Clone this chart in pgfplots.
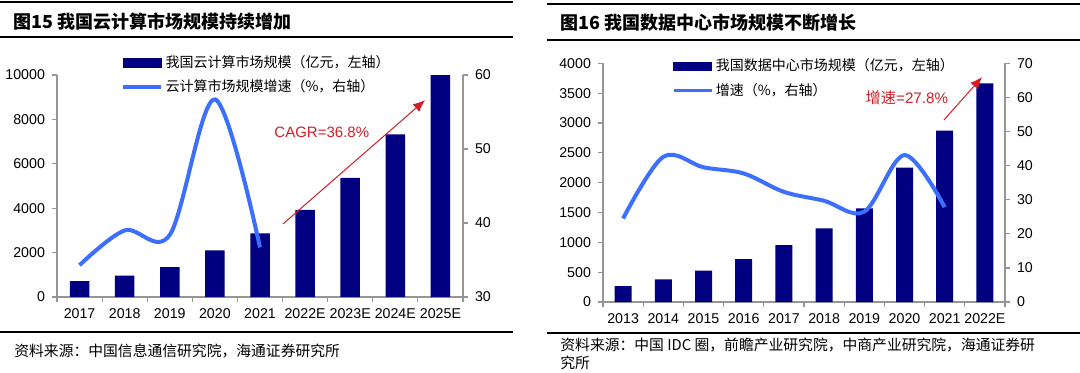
\documentclass[border=0pt]{standalone}
\usepackage{fontspec}
\usepackage{pgfplots}
\pgfplotsset{compat=1.18}
\usetikzlibrary{arrows.meta}
\setmainfont{Liberation Sans}
\newfontfamily\cjk{Noto Sans CJK SC}
\definecolor{barnavy}{RGB}{0,0,128}
\definecolor{lineblue}{RGB}{60,110,255}
\definecolor{annred}{RGB}{210,30,40}
\definecolor{axgray}{RGB}{150,150,150}
\pgfplotsset{
  base/.style={
    scale only axis, enlargelimits=false, clip=false,
    axis line style={draw=axgray, line width=0.6pt},
    tick style={draw=axgray, line width=0.6pt},
    tick align=outside, major tick length=2.5pt, minor tick length=2.5pt,
    ticklabel style={font=\fontsize{7.1}{8}\selectfont},
    /pgf/number format/assume math mode=true,
    /pgf/number format/1000 sep={},
    scaled y ticks=false,
  },
  legstyle/.style={
    legend style={draw=none, fill=none, font=\cjk\fontsize{7}{8}\selectfont,
      cells={anchor=west}, row sep=2.2pt, inner sep=0pt,
      nodes={inner sep=1.2pt}},
  },
}
\begin{document}
\begin{tikzpicture}
\path[use as bounding box] (0,0) rectangle (540pt,-186pt);
% ---------------- Panel 1 ----------------
\draw[line width=1pt] (0pt,-1.2pt) -- (256.5pt,-1.2pt);
\node[anchor=west, inner sep=0] at (6.5pt,-10.8pt) {\cjk\bfseries\fontsize{9}{10}\selectfont 图15 我国云计算市场规模持续增加};
\draw[line width=0.8pt] (0pt,-18.5pt) -- (256.5pt,-18.5pt);
\draw[line width=1pt] (0pt,-166pt) -- (256.5pt,-166pt);
\node[anchor=west, inner sep=0] at (7pt,-175.5pt) {\cjk\fontsize{7.4}{8.5}\selectfont 资料来源：中国信息通信研究院，海通证券研究所};

\begin{axis}[base, at={(28.5pt,-148.5pt)}, anchor=south west,
  width=203pt, height=111pt,
  xmin=-0.5, xmax=8.5, ymin=0, ymax=10000,
  ytick={0,2000,...,10000},
  axis x line*=bottom, axis y line*=left,
  xtick={0,...,8},
  xticklabels={2017,2018,2019,2020,2021,2022E,2023E,2024E,2025E},
  minor xtick={-0.5,0.5,...,8.5},
  major x tick style={draw=none},
]
\addplot[ybar, bar width=9.75pt, fill=barnavy, draw=none] coordinates {
  (0,720) (1,960) (2,1350) (3,2100) (4,2870) (5,3920) (6,5370) (7,7330) (8,10000)};
\draw[annred, line width=0.5pt, -{Latex[length=6pt,width=5pt]}] (axis cs:4.51,3290) -- (axis cs:7.66,8870);
\node[annred, font=\fontsize{7.5}{9}\selectfont] at (axis cs:5.37,7430) {CAGR=36.8\%};
\end{axis}

\begin{axis}[base, legstyle, at={(28.5pt,-148.5pt)}, anchor=south west,
  width=203pt, height=111pt,
  xmin=-0.5, xmax=8.5, ymin=30, ymax=60,
  ytick={30,40,50,60},
  axis y line*=right, axis x line=none,
  legend style={at={(0.158,1.10)}, anchor=north west},
]
\addlegendimage{legend image code/.code={\fill[barnavy] (0pt,-2.2pt) rectangle (19pt,2.2pt);}}
\addlegendentry{我国云计算市场规模（亿元，左轴）}
\addplot[smooth, tension=0.55, color=lineblue, line width=2pt,
  legend image code/.code={\draw[lineblue, line width=1.8pt] (0pt,0pt) -- (19pt,0pt);}]
  coordinates {(0,34.3) (1,39.0) (2,38.4) (3,56.7) (4,36.7)};
\addlegendentry{云计算市场规模增速（\%，右轴）}
\end{axis}

% ---------------- Panel 2 ----------------
\draw[line width=1pt] (273.5pt,-2pt) -- (540pt,-2pt);
\node[anchor=west, inner sep=0] at (280pt,-11.5pt) {\cjk\bfseries\fontsize{9}{10}\selectfont 图16 我国数据中心市场规模不断增长};
\draw[line width=0.8pt] (273.5pt,-20pt) -- (540pt,-20pt);
\draw[line width=1pt] (273.5pt,-166.5pt) -- (540pt,-166.5pt);
\node[anchor=west, inner sep=0] at (280pt,-172.5pt) {\cjk\fontsize{7.4}{8.5}\selectfont 资料来源：中国 IDC 圈，前瞻产业研究院，中商产业研究院，海通证券研};
\node[anchor=west, inner sep=0] at (280pt,-181.5pt) {\cjk\fontsize{7.4}{8.5}\selectfont 究所};

\begin{axis}[base, at={(301.5pt,-151pt)}, anchor=south west,
  width=201pt, height=119.35pt,
  xmin=-0.5, xmax=9.5, ymin=0, ymax=4000,
  ytick={0,500,...,4000},
  axis x line*=bottom, axis y line*=left,
  xtick={0,...,9},
  xticklabels={2013,2014,2015,2016,2017,2018,2019,2020,2021,2022E},
  minor xtick={-0.5,0.5,...,9.5},
  major x tick style={draw=none},
]
\addplot[ybar, bar width=8.5pt, fill=barnavy, draw=none] coordinates {
  (0,268) (1,380) (2,525) (3,720) (4,955) (5,1235) (6,1570) (7,2250) (8,2870) (9,3665)};
\draw[annred, line width=0.5pt, -{Latex[length=6pt,width=5pt]}] (axis cs:7.98,3050) -- (axis cs:8.93,3770);
\node[annred, font=\fontsize{7.6}{9}\selectfont] at (axis cs:7.06,3420) {\cjk 增速\fontspec{Liberation Sans}=27.8\%};
\end{axis}

\begin{axis}[base, legstyle, at={(301.5pt,-151pt)}, anchor=south west,
  width=201pt, height=119.35pt,
  xmin=-0.5, xmax=9.5, ymin=0, ymax=70,
  ytick={0,10,...,70},
  axis y line*=right, axis x line=none,
  legend style={at={(0.170,1.03)}, anchor=north west},
]
\addlegendimage{legend image code/.code={\fill[barnavy] (0pt,-2.2pt) rectangle (19pt,2.2pt);}}
\addlegendentry{我国数据中心市场规模（亿元，左轴）}
\addplot[smooth, tension=0.55, color=lineblue, line width=2pt,
  legend image code/.code={\draw[lineblue, line width=1.8pt] (0pt,0pt) -- (19pt,0pt);}]
  coordinates {(0,24.5) (1,42.6) (2,39.5) (3,37.7) (4,32.3) (5,29.7) (6,26.5) (7,43.1) (8,27.8)};
\addlegendentry{增速（\%，右轴）}
\end{axis}
\end{tikzpicture}
\end{document}
